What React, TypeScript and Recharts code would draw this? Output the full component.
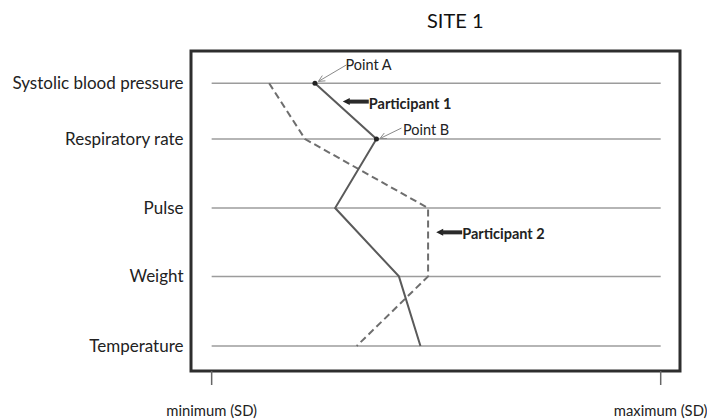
import { CartesianGrid, Line, LineChart, ReferenceArea, ReferenceDot, ReferenceLine, XAxis, YAxis } from 'recharts';

// rows top to bottom, with their vertical level (the first gap is a bit shorter)
const rows = ['Systolic blood pressure', 'Respiratory rate', 'Pulse', 'Weight', 'Temperature'];
const rowLevel = [0, 0.85, 1.9, 2.94, 4];

// position between minimum (0) and maximum (100) SD
const participant1 = [23.0, 36.7, 27.5, 41.7, 46.5];
const participant2 = [12.8, 20.8, 48.2, 48.2, 32.3];

const xTicks = [0, 100];
const xTickLabels = ['minimum (SD)', 'maximum (SD)'];

const data = rows.map((name, i) => ({
  name,
  level: rowLevel[i],
  p1: participant1[i],
  p2: participant2[i],
}));

const X_DOMAIN: [number, number] = [-4.6, 104.3];
const Y_DOMAIN: [number, number] = [-0.49, 4.38];
const FONT = 'Lato, "Open Sans", sans-serif';

const thinArrow = (dx1: number, dy1: number, dx2: number, dy2: number, text: string, tx: number, ty: number) =>
  (p: any) => {
    const x1 = p.cx + dx1;
    const y1 = p.cy + dy1;
    const x2 = p.cx + dx2;
    const y2 = p.cy + dy2;
    const a = Math.atan2(y2 - y1, x2 - x1);
    const h = 7;
    return (
      <g>
        <line x1={x1} y1={y1} x2={x2} y2={y2} stroke="#8a8a8a" strokeWidth={1} />
        <polyline
          points={`${x2 - h * Math.cos(a - 0.45)},${y2 - h * Math.sin(a - 0.45)} ${x2},${y2} ${x2 - h * Math.cos(a + 0.45)},${y2 - h * Math.sin(a + 0.45)}`}
          fill="none"
          stroke="#8a8a8a"
          strokeWidth={1}
        />
        <text x={p.cx + tx} y={p.cy + ty} dy="0.35em" fontFamily={FONT} fontSize={14.5} fill="#222">
          {text}
        </text>
      </g>
    );
  };

const boldArrow = (text: string) => (p: any) => {
  const x = p.cx;
  const y = p.cy;
  return (
    <g>
      <polygon points={`${x},${y} ${x + 7},${y - 3.5} ${x + 7},${y + 3.5}`} fill="#222" />
      <rect x={x + 5} y={y - 2} width={21} height={4} fill="#2a2a2a" />
      <text x={x + 26} y={y + 2} dy="0.35em" fontFamily={FONT} fontWeight={700} fontSize={14.5} fill="#222">
        {text}
      </text>
    </g>
  );
};

export default function App() {
  return (
    <div style={{ position: 'relative', width: 707, height: 419, background: '#fff' }}>
      <style>{'body{margin:0}'}</style>
      <div
        style={{
          position: 'absolute',
          left: 427,
          top: 9.6,
          fontFamily: FONT,
          fontSize: 20,
          lineHeight: '20px',
          color: '#111',
        }}
      >
        SITE 1
      </div>
      <LineChart
        width={707}
        height={419}
        data={data}
        layout="vertical"
        margin={{ top: 51, right: 27, left: 0, bottom: 0 }}
      >
        <CartesianGrid horizontal={false} vertical={false} />
        <XAxis
          type="number"
          domain={X_DOMAIN}
          ticks={xTicks}
          interval={0}
          allowDataOverflow
          axisLine={false}
          tickSize={14}
          tickMargin={20}
          tickLine={{ stroke: '#666', strokeWidth: 1.5 }}
          tickFormatter={(v: number) => xTickLabels[xTicks.indexOf(v)]}
          tick={{ fontFamily: FONT, fontSize: 14.8, fill: '#222' }}
          height={48}
        />
        <YAxis
          type="number"
          dataKey="level"
          domain={Y_DOMAIN}
          allowDataOverflow
          ticks={rowLevel}
          interval={0}
          axisLine={false}
          tickLine={false}
          tickSize={0}
          tickMargin={7.5}
          tickFormatter={(v: number) => rows[rowLevel.indexOf(v)]}
          tick={{ fontFamily: FONT, fontSize: 17, fill: '#222' }}
          width={191}
        />
        {rowLevel.map((lvl) => (
          <ReferenceLine
            key={lvl}
            segment={[
              { x: xTicks[0], y: lvl },
              { x: xTicks[1], y: lvl },
            ]}
            stroke="#9c9c9c"
            strokeWidth={1.5}
          />
        ))}
        <ReferenceArea
          x1={X_DOMAIN[0]}
          x2={X_DOMAIN[1]}
          y1={Y_DOMAIN[0]}
          y2={Y_DOMAIN[1]}
          fill="none"
          stroke="#2e2e2e"
          strokeWidth={3}
          ifOverflow="visible"
        />
        <Line
          dataKey="p2"
          stroke="#6e6e6e"
          strokeWidth={2}
          strokeDasharray="7 4"
          dot={false}
          isAnimationActive={false}
        />
        <Line
          dataKey="p1"
          stroke="#5a5a5a"
          strokeWidth={2}
          dot={(p: any) =>
            p.index < 2 ? (
              <circle key={p.index} cx={p.cx} cy={p.cy} r={2.5} fill="#222" />
            ) : (
              <g key={p.index} />
            )
          }
          isAnimationActive={false}
        />
        <ReferenceDot
          x={participant1[0]}
          y={rowLevel[0]}
          r={0}
          ifOverflow="visible"
          shape={thinArrow(31.5, -18.3, 3.5, -1.8, 'Point A', 30.5, -18.3)}
        />
        <ReferenceDot
          x={participant1[1]}
          y={rowLevel[1]}
          r={0}
          ifOverflow="visible"
          shape={thinArrow(25, -11, 3.5, -0.5, 'Point B', 26.5, -9.5)}
        />
        <ReferenceDot x={29.2} y={0.28} r={0} ifOverflow="visible" shape={boldArrow('Participant 1')} />
        <ReferenceDot x={50.0} y={2.27} r={0} ifOverflow="visible" shape={boldArrow('Participant 2')} />
      </LineChart>
    </div>
  );
}
